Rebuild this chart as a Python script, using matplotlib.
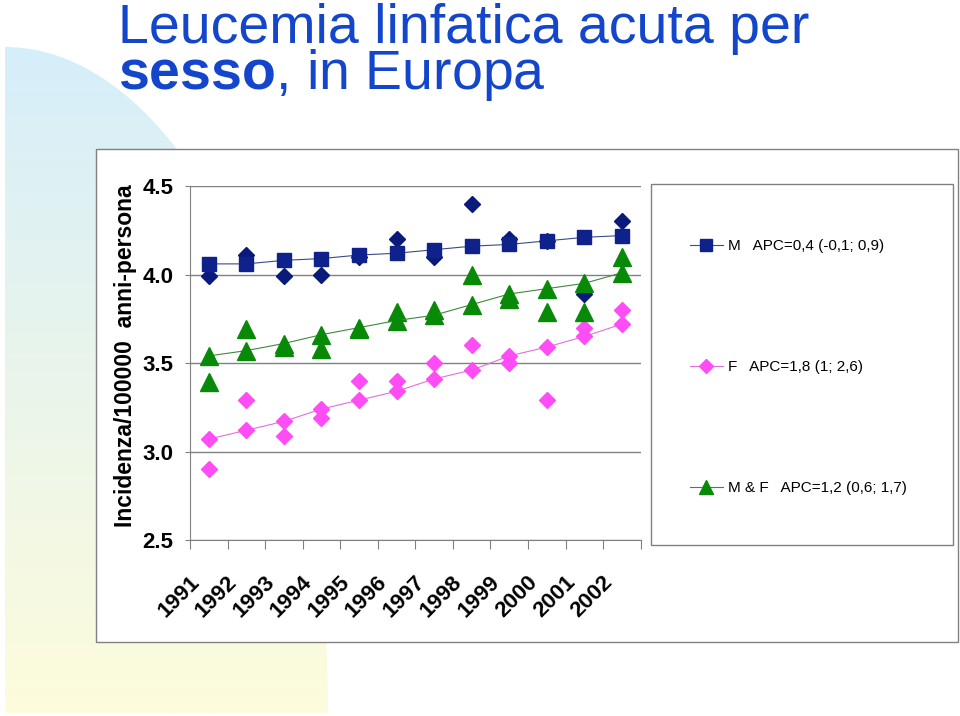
import numpy as np
import matplotlib
matplotlib.use("Agg")
import matplotlib.pyplot as plt
from matplotlib.patches import Polygon, Rectangle
from matplotlib.transforms import ScaledTranslation

# data
years = ["1991", "1992", "1993", "1994", "1995", "1996",
         "1997", "1998", "1999", "2000", "2001", "2002"]
m_obs = [3.99, 4.11, 3.99, 4.00, 4.10, 4.20, 4.10, 4.40, 4.20, 4.19, 3.89, 4.30]
m_fit = [4.06, 4.06, 4.08, 4.09, 4.11, 4.12, 4.14, 4.16, 4.17, 4.19, 4.21, 4.22]
f_obs = [2.90, 3.29, 3.09, 3.19, 3.40, 3.40, 3.50, 3.60, 3.50, 3.29, 3.70, 3.80]
f_fit = [3.07, 3.12, 3.17, 3.24, 3.29, 3.34, 3.41, 3.46, 3.54, 3.59, 3.65, 3.72]
mf_obs = [3.39, 3.69, 3.59, 3.58, 3.69, 3.79, 3.80, 4.00, 3.86, 3.79, 3.79, 4.10]
mf_fit = [3.54, 3.57, 3.61, 3.66, 3.70, 3.74, 3.77, 3.83, 3.89, 3.92, 3.95, 4.01]
legend_labels = ["M   APC=0,4 (-0,1; 0,9)",
                 "F   APC=1,8 (1; 2,6)",
                 "M & F   APC=1,2 (0,6; 1,7)"]

plt.rcParams["font.family"] = ["Liberation Sans", "DejaVu Sans"]
plt.rcParams["mathtext.fontset"] = "custom"
plt.rcParams["mathtext.rm"] = "Liberation Sans"
plt.rcParams["mathtext.bf"] = "Liberation Sans:bold"
plt.rcParams["mathtext.it"] = "Liberation Sans:italic"

W, H = 960, 716
fig = plt.figure(figsize=(W / 100, H / 100), dpi=100)
fig.patch.set_facecolor("white")

# background slide decoration (pixel coordinates)
bg = fig.add_axes([0, 0, 1, 1], zorder=0)
bg.set_xlim(0, W)
bg.set_ylim(H, 0)
bg.axis("off")
t = np.linspace(np.pi / 2, 0, 80)
pts = [(5, 713)] + [(5 + 323 * np.cos(a), 713 - 666 * np.sin(a)) for a in t]
shape = Polygon(pts, closed=True, facecolor="none", edgecolor="none")
bg.add_patch(shape)
top = np.array([214, 238, 250]) / 255
bot = np.array([253, 252, 220]) / 255
k = np.linspace(0, 1, 256)[:, None]
grad = (top * (1 - k) + bot * k)[:, None, :]
im = bg.imshow(grad, extent=[0, 330, 713, 47], aspect="auto", interpolation="bilinear")
im.set_clip_path(shape)
bg.add_patch(Rectangle((96, 149), 862, 493, facecolor="white", edgecolor="#808080", lw=1))
bg.add_patch(Rectangle((651, 184), 302, 361, facecolor="white", edgecolor="#808080", lw=1))

# title, one text object with two lines (baseline = last line)
blue = "#1446CC"
fig.text(118 / W, 1 - 89 / H, "Leucemia linfatica acuta per\n$\\mathbf{sesso}$, in Europa",
         fontsize=40, color=blue, va="baseline", ha="left", linespacing=0.8)

# main chart
ax = fig.add_axes([190 / W, 1 - 540 / H, 450.7 / W, 354 / H], zorder=2)
ax.patch.set_visible(False)
x = np.arange(len(years))

navy = "#0F228C"
navy_d = "#0A1A7A"
pink = "#FF4DF5"
green = "#088A08"

ax.plot(x, m_obs, ls="none", marker="D", ms=8.3, color=navy_d, mec=navy_d, zorder=3)
hm, = ax.plot(x, m_fit, marker="s", ms=10.5, color="#3B4A8A", lw=0.8,
              mfc=navy, mec=navy, zorder=4)
ax.plot(x, f_obs, ls="none", marker="D", ms=8.3, color=pink, mec=pink, zorder=3)
hf, = ax.plot(x, f_fit, marker="D", ms=8.3, color="#E070E0", lw=0.8,
              mfc=pink, mec=pink, zorder=4)
ax.plot(x, mf_obs, ls="none", marker="^", ms=12.5, color=green, mec=green, zorder=5)
hmf, = ax.plot(x, mf_fit, marker="^", ms=12.5, color="#3E8A3E", lw=0.8,
               mfc=green, mec=green, zorder=5)

ax.set_xlim(-0.5, 11.5)
ax.set_ylim(2.5, 4.5)
ax.set_yticks([2.5, 3.0, 3.5, 4.0, 4.5])
ax.set_yticklabels(["2.5", "3.0", "3.5", "4.0", "4.5"], fontsize=16, fontweight="bold")
ax.yaxis.grid(True, color="#808080", lw=1)
ax.set_axisbelow(True)
for s in ["top", "right"]:
    ax.spines[s].set_visible(False)
for s in ["left", "bottom"]:
    ax.spines[s].set_color("#808080")
ax.tick_params(axis="y", length=3.6, width=0.8, color="#808080", pad=8.5)

ax.set_xticks(x)
ax.set_xticklabels(years, fontsize=16, fontweight="bold", rotation=45,
                   ha="center", va="center", rotation_mode="anchor")
ax.set_xticks(np.arange(-0.5, 12, 1), minor=True)
ax.tick_params(axis="x", which="major", length=0, pad=0)
ax.tick_params(axis="x", which="minor", length=6.5, width=0.8, color="#808080")
off = ScaledTranslation(-0.30, -0.57, fig.dpi_scale_trans)
for lab in ax.get_xticklabels():
    lab.set_transform(lab.get_transform() + off)

ax.set_ylabel("Incidenza/100000  anni-persona", fontsize=16.5, fontweight="bold", va="center")
ax.yaxis.set_label_coords(-0.144, 0.52)

leg = ax.legend([hm, hf, hmf], legend_labels, loc="center left",
                bbox_to_anchor=(682 / W, 1 - 367 / H), bbox_transform=fig.transFigure,
                frameon=False, handlelength=2.2, handletextpad=0.3, labelspacing=7.0,
                borderpad=0, markerscale=0.85, prop={"size": 11})

fig.savefig("out.png", dpi=100)
